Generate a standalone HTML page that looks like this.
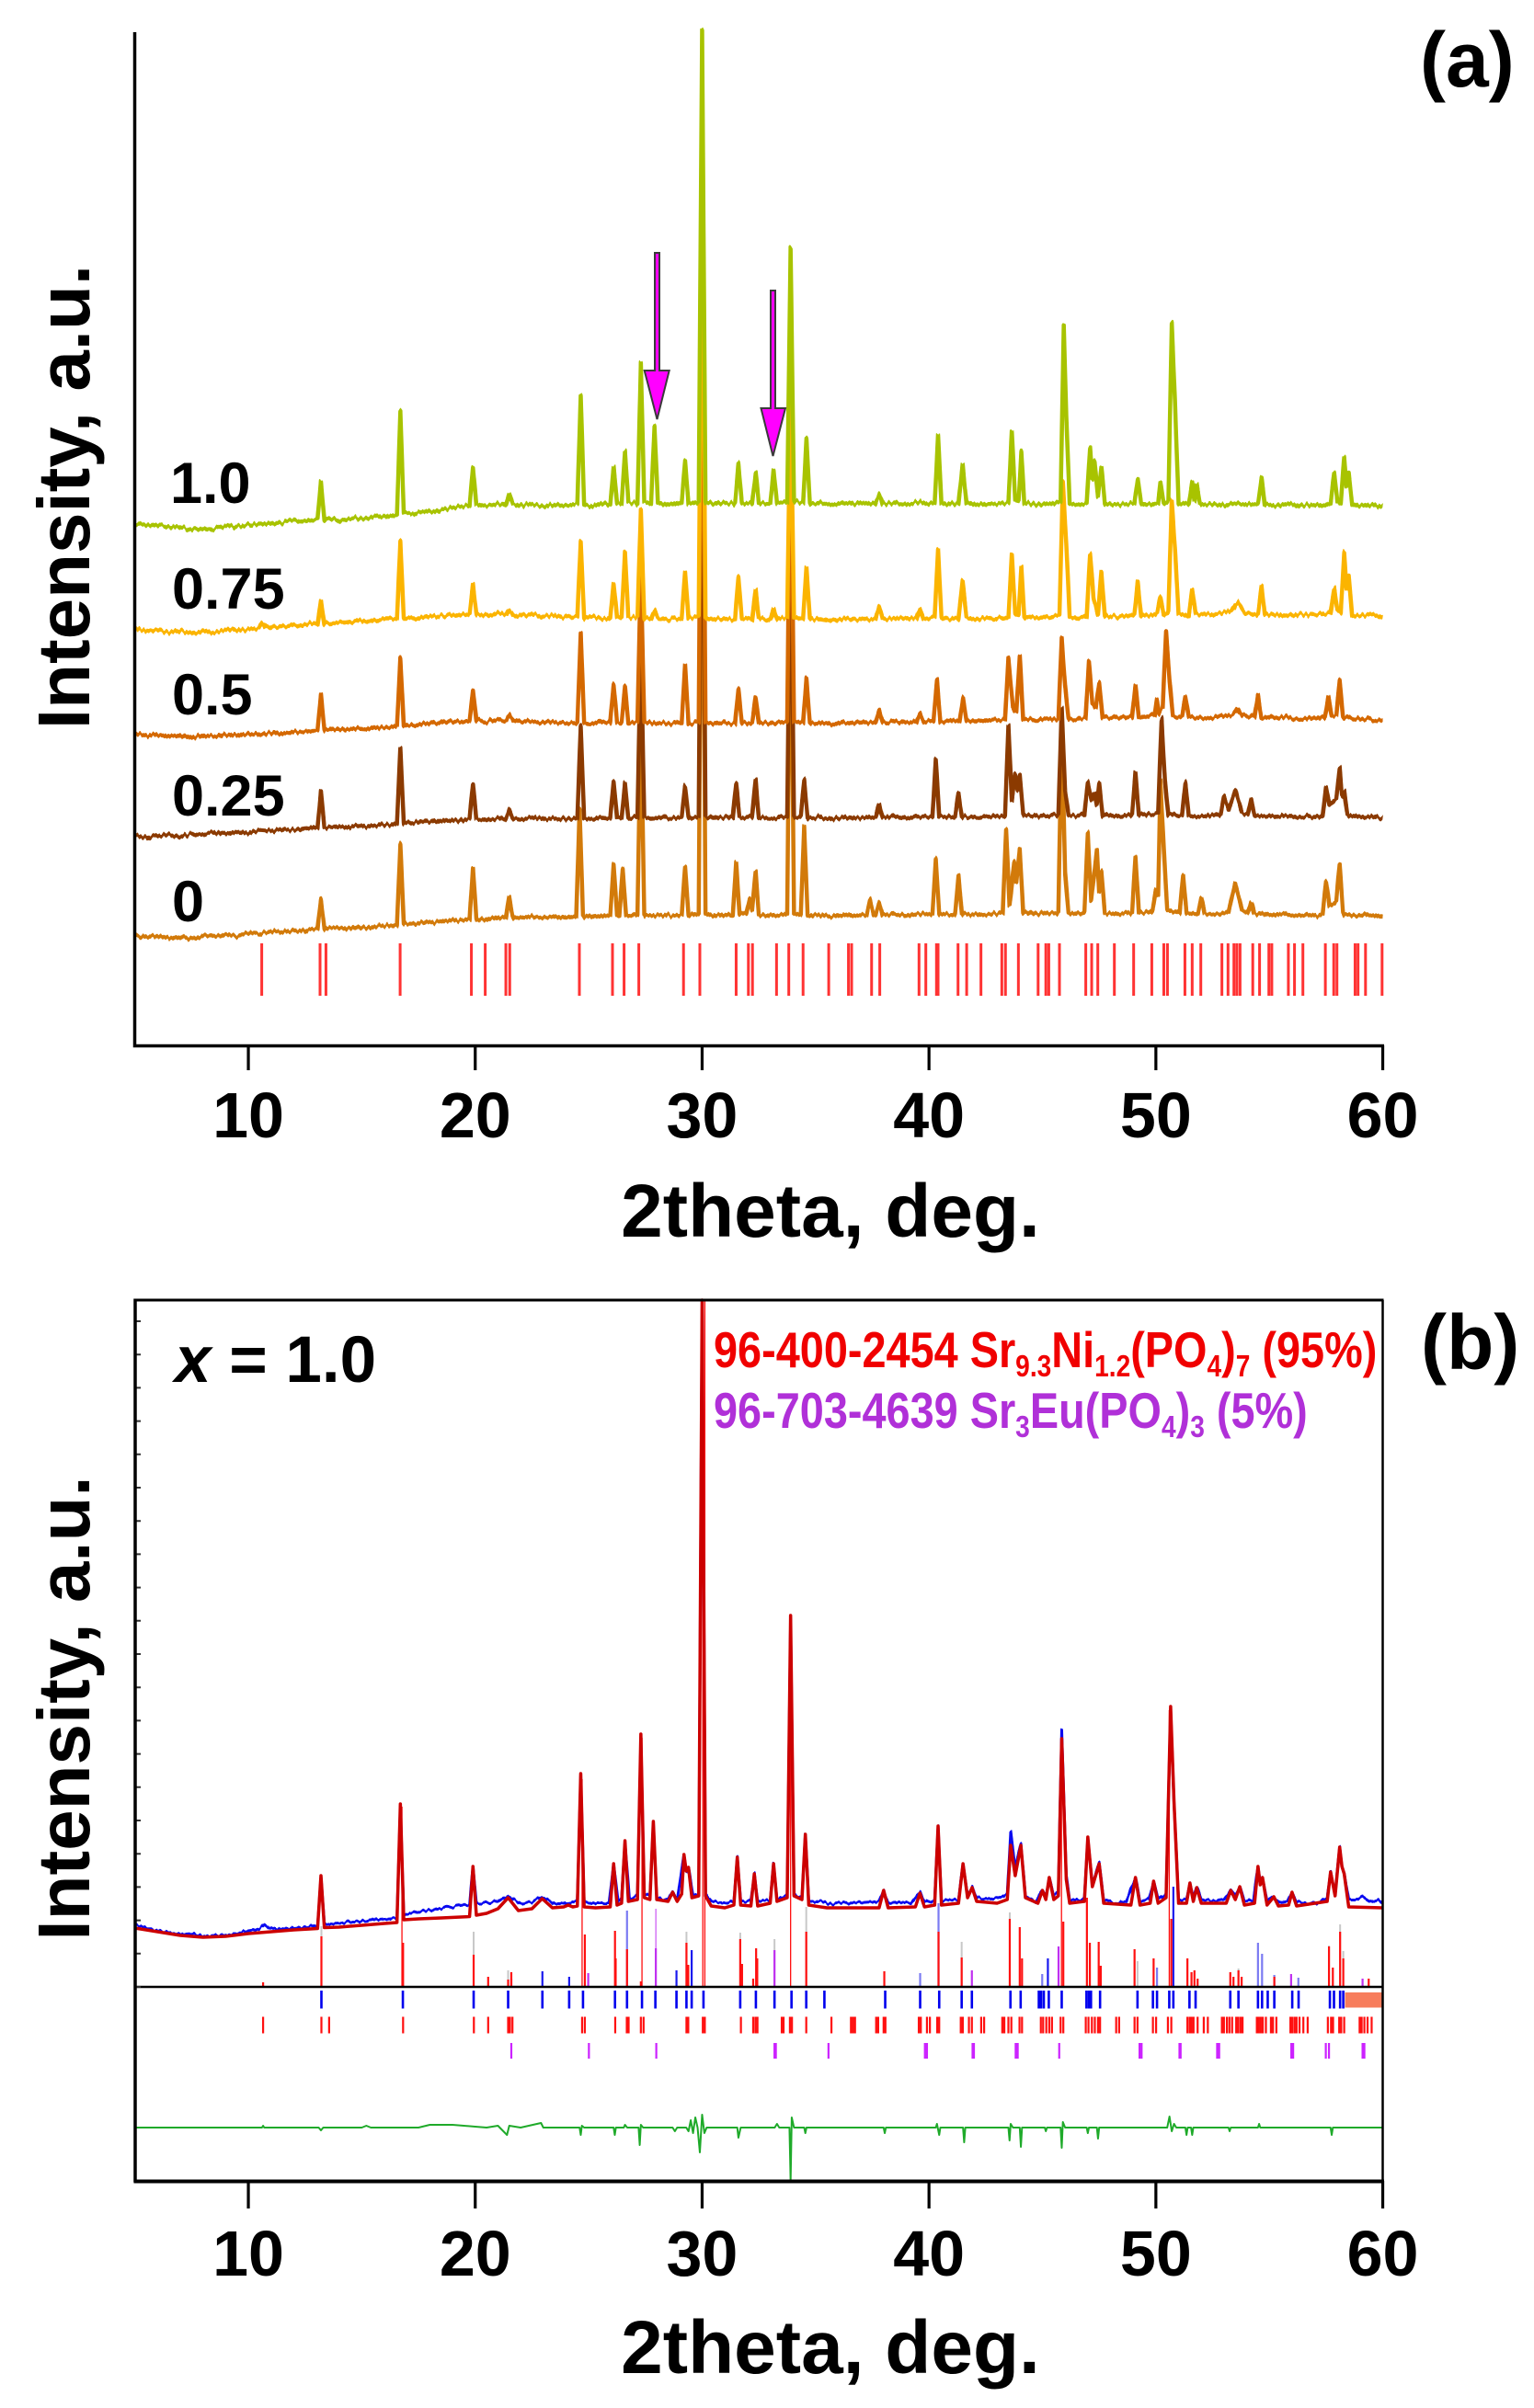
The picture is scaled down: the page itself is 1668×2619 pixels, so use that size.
<!DOCTYPE html>
<html><head><meta charset="utf-8"><style>
html,body{margin:0;padding:0;background:#fff}
svg{display:block}
text{font-family:"Liberation Sans",Arial,sans-serif;font-weight:bold}
.d path{vector-effect:non-scaling-stroke;fill:none;stroke-linejoin:round}
</style></head><body>
<svg xmlns="http://www.w3.org/2000/svg" width="1668" height="2619" viewBox="0 0 1668 2619">
<defs>
<filter id="nz" filterUnits="userSpaceOnUse" x="0" y="0" width="1668" height="2619" color-interpolation-filters="sRGB">
<feTurbulence type="fractalNoise" baseFrequency="0.35 0.02" numOctaves="1" seed="7" result="t"/>
<feColorMatrix in="t" type="matrix" values="0 0 0 0 0.5  0 1 0 0 0  0 0 0 0 0  0 0 0 0 1" result="m"/>
<feDisplacementMap in="SourceGraphic" in2="m" scale="8" xChannelSelector="R" yChannelSelector="G"/>
</filter>
<filter id="nz2" filterUnits="userSpaceOnUse" x="0" y="0" width="1668" height="2619" color-interpolation-filters="sRGB">
<feTurbulence type="fractalNoise" baseFrequency="0.3 0.02" numOctaves="1" seed="11" result="t"/>
<feColorMatrix in="t" type="matrix" values="0 0 0 0 0.5  0 1 0 0 0  0 0 0 0 0  0 0 0 0 1" result="m"/>
<feDisplacementMap in="SourceGraphic" in2="m" scale="6" xChannelSelector="R" yChannelSelector="G"/>
</filter>
</defs>
<rect width="1668" height="2619" fill="#fff"/>

<!-- ============ PANEL A ============ -->
<g class="d" transform="translate(23.35 0) scale(24.67 1)">
<path stroke="#ff3333" stroke-width="3" d="M10.59,1026V1083M13.16,1026V1083M13.42,1026V1083M16.69,1026V1083M19.83,1026V1083M20.44,1026V1083M21.35,1026V1083M21.52,1026V1083M24.59,1026V1083M26.05,1026V1083M26.56,1026V1083M27.21,1026V1083M29.18,1026V1083M29.9,1026V1083M31.5,1026V1083M32.04,1026V1083M32.22,1026V1083M33.28,1026V1083M33.82,1026V1083M34.45,1026V1083M35.58,1026V1083M36.45,1026V1083M36.59,1026V1083M37.47,1026V1083M37.83,1026V1083M39.56,1026V1083M39.86,1026V1083M40.33,1026V1083M40.4,1026V1083M41.28,1026V1083M41.66,1026V1083M42.29,1026V1083M43.21,1026V1083M43.37,1026V1083M43.94,1026V1083M44.81,1026V1083M45.15,1026V1083M45.28,1026V1083M45.75,1026V1083M46.91,1026V1083M47.17,1026V1083M47.44,1026V1083M48.17,1026V1083M49.02,1026V1083M49.82,1026V1083M50.35,1026V1083M50.51,1026V1083M51.28,1026V1083M51.6,1026V1083M51.98,1026V1083M52.91,1026V1083M53.18,1026V1083M53.44,1026V1083M53.57,1026V1083M53.71,1026V1083M54.27,1026V1083M54.57,1026V1083M54.98,1026V1083M55.11,1026V1083M55.84,1026V1083M56.11,1026V1083M56.48,1026V1083M57.47,1026V1083M57.84,1026V1083M57.98,1026V1083M58.78,1026V1083M58.91,1026V1083M59.24,1026V1083M59.97,1026V1083"/>
</g>

<g filter="url(#nz)">
<g class="d" transform="translate(23.35 0) scale(24.67 1)">
<!-- 0 -->
<path stroke="#d27a0a" stroke-width="4.5" d="M5,1017 L5.5,1019 6,1018 6.5,1020 7,1019 7.5,1021 8,1018 8.5,1019 9,1017 9.5,1018 10,1015 10.5,1016 11,1013 11.5,1014 12,1012 12.5,1012 13.05,1010 13.2,978 13.35,1010 13.8,1009 14.3,1010 14.8,1008 15.3,1009 15.8,1007 16.2,1007 16.55,1006 16.7,918 16.85,1005 17.3,1005 17.8,1003 18.3,1003 18.8,1001 19.3,1001 19.75,1000 19.9,944 20.05,1000 20.5,1000 21,998 21.35,998 21.5,976 21.65,998 22,998 22.5,997 23,998 23.5,997 24,998 24.45,997 24.6,880 24.75,997 25.2,997 25.6,996 25.95,996 26.1,940 26.25,995 26.35,996 26.5,945 26.65,996 27.15,995 27.3,780 27.45,995 27.75,996 28.2,995 28.7,996 29.1,995 29.25,942 29.4,996 29.85,994 30.0,420 30.15,994 30.5,996 31,995 31.35,996 31.5,938 31.65,994 31.95,994 32.1,978 32.2,990 32.36,948 32.5,995 33,996 33.5,995 33.75,994 33.9,600 34.05,994 34.35,995 34.5,899 34.65,996 35.2,995 35.7,997 36.2,995 36.7,996 37.25,995 37.4,978 37.55,995 37.65,995 37.8,981 37.95,995 38.5,994 39,996 39.5,994 40.15,994 40.3,935 40.45,994 41.15,995 41.3,952 41.45,994 42.2,995 42.8,994 43.25,993 43.4,902 43.55,985 43.75,938 43.85,960 44.0,922 44.15,993 44.8,994 45.3,993 45.7,993 45.85,790 46.0,950 46.15,993 46.6,994 46.85,992 47.0,906 47.15,980 47.4,924 47.5,970 47.6,948 47.75,993 48.3,994 48.8,993 48.95,993 49.1,931 49.25,993 49.85,992 50.0,969 50.1,975 50.2,850 50.35,924 50.5,990 51.05,993 51.2,952 51.35,993 51.85,994 52.0,977 52.15,994 52.8,994 53.2,992 53.5,961 53.8,990 54.05,993 54.2,982 54.35,994 55.2,995 55.7,994 56.2,996 56.7,995 57.2,996 57.35,994 57.5,958 57.65,985 57.95,980 58.1,939 58.25,994 58.8,996 59.3,995 60,997"/>

<!-- 0.25 -->
<path stroke="#8b3a00" stroke-width="4.5" d="M5,909 L5.5,911 6,909 6.5,908 7,910 7.5,907 8,908 8.5,905 9,907 9.5,905 10,906 10.5,903 11,904 11.5,902 12,903 12.5,901 13.05,900 13.2,861 13.35,900 13.8,899 14.3,900 14.8,898 15.3,899 15.8,897 16.2,897 16.55,896 16.7,814 16.85,895 17.3,895 17.8,893 18.3,894 18.8,892 19.3,893 19.75,891 19.9,853 20.05,891 20.5,892 21,890 21.35,891 21.5,880 21.65,890 22,891 22.5,889 23,891 23.5,890 24,891 24.5,890 24.65,790 24.8,890 25.2,891 25.6,889 25.95,890 26.1,850 26.25,889 26.45,890 26.6,852 26.75,890 27.15,889 27.3,700 27.45,889 27.75,890 28.2,889 28.7,890 29.1,889 29.25,855 29.4,890 29.85,888 30.0,365 30.15,888 30.5,890 31,889 31.35,890 31.5,852 31.65,889 32.2,889 32.36,848 32.5,889 33,890 33.5,889 33.75,888 33.9,560 34.05,888 34.35,889 34.5,848 34.65,890 35.2,889 35.7,891 36.2,889 36.7,890 37.2,889 37.65,889 37.8,875 37.95,889 38.5,888 39,890 39.5,888 40.15,888 40.3,826 40.45,888 41.15,889 41.3,863 41.45,888 42.2,889 42.8,888 43.35,887 43.5,789 43.65,870 43.8,842 43.9,860 44.0,842 44.15,886 44.8,888 45.3,887 45.7,886 45.85,770 46.0,860 46.15,887 46.6,887 46.85,886 47.0,851 47.15,870 47.3,862 47.4,875 47.5,852 47.65,887 48.3,888 48.8,887 48.95,887 49.1,840 49.25,887 49.8,886 50.1,884 50.25,782 50.4,850 50.55,886 51.15,887 51.3,851 51.45,887 52,888 52.5,887 52.85,886 53.0,866 53.2,880 53.5,860 53.8,884 54.05,886 54.2,869 54.35,887 55.2,888 55.7,887 56.2,889 56.7,888 57.2,889 57.35,887 57.5,856 57.65,875 57.95,870 58.1,835 58.2,865 58.3,860 58.45,887 59,889 59.5,888 60,890"/>

<!-- 0.5 -->
<path stroke="#d46800" stroke-width="4.5" d="M5,798 L5.5,800 6,799 6.5,801 7,800 7.5,802 8,800 8.5,801 9,799 9.5,800 10,798 10.5,799 11,797 11.5,798 12,796 12.5,796 13.05,794 13.2,755 13.35,794 13.8,793 14.3,794 14.8,792 15.3,793 15.8,791 16.2,791 16.55,790 16.7,716 16.85,789 17.3,789 17.8,787 18.3,787 18.8,785 19.3,785 19.75,784 19.9,751 20.05,784 20.5,785 21,783 21.35,784 21.5,778 21.65,784 22,785 22.5,784 23,786 23.5,785 24,786 24.5,786 24.65,688 24.8,786 25.2,787 25.6,785 25.95,786 26.1,744 26.25,786 26.45,786 26.6,746 26.75,786 27.15,785 27.3,620 27.45,786 27.75,787 28.2,786 28.7,787 29.1,786 29.25,723 29.4,787 29.85,785 30.0,250 30.15,785 30.5,787 31,786 31.45,787 31.6,749 31.75,786 32.2,787 32.36,758 32.5,786 33,787 33.5,786 33.75,785 33.9,440 34.05,785 34.45,786 34.6,738 34.75,787 35.2,786 35.7,788 36.2,786 36.7,787 37.2,786 37.65,786 37.8,773 37.95,786 38.5,785 39,786 39.45,785 39.6,776 39.75,785 40.2,784 40.35,739 40.5,785 41.35,784 41.5,759 41.65,784 42.2,784 42.8,783 43.35,783 43.5,716 43.7,770 43.85,775 44.0,713 44.15,782 44.8,783 45.3,782 45.7,782 45.85,694 46.0,746 46.15,782 46.6,782 46.9,781 47.05,720 47.2,765 47.35,770 47.5,743 47.65,781 48.3,781 48.8,780 48.95,780 49.1,745 49.25,780 49.8,779 49.95,778 50.05,760 50.15,775 50.3,770 50.45,686 50.6,740 50.75,779 51.15,780 51.3,758 51.45,780 52,781 52.5,780 53,779 53.4,776 53.6,770 53.8,777 54.35,780 54.5,756 54.65,780 55.2,781 55.7,780 56.2,782 56.7,781 57.2,782 57.45,781 57.6,758 57.75,778 57.95,778 58.1,740 58.25,780 58.7,782 59.2,781 59.6,783 60,783"/>

<!-- 0.75 -->
<path stroke="#fbb400" stroke-width="4.5" d="M5,684 L5.5,686 6,685 6.5,688 7,686 7.5,689 8,687 8.5,688 9,685 9.5,686 10,684 10.45,684 10.6,679 10.75,683 11.2,682 11.7,681 12.2,680 12.7,678 13.05,679 13.2,653 13.35,678 13.8,677 14.3,677 14.8,675 15.3,676 15.8,674 16.2,674 16.55,673 16.7,589 16.85,672 17.3,672 17.8,670 18.3,671 18.8,668 19.3,669 19.75,668 19.9,635 20.05,668 20.5,669 21,667 21.35,669 21.5,664 21.65,668 22,670 22.5,668 23,670 23.5,669 24,671 24.5,670 24.65,589 24.8,672 25.2,671 25.6,673 25.95,672 26.1,634 26.25,672 26.45,671 26.6,600 26.75,672 27.15,671 27.3,554 27.45,673 27.75,673 27.9,664 28.05,673 28.5,674 29.1,672 29.25,623 29.4,673 29.85,671 30.0,180 30.15,672 30.5,674 31,673 31.45,674 31.6,627 31.75,673 32.2,674 32.36,642 32.5,673 33,674 33.15,662 33.3,673 33.75,672 33.9,420 34.05,672 34.45,673 34.6,617 34.75,674 35.2,673 35.7,675 36.2,673 36.7,674 37.2,673 37.65,674 37.8,660 37.95,673 38.5,672 39,674 39.45,672 39.6,662 39.75,673 40.25,672 40.4,597 40.55,673 41.3,673 41.48,631 41.65,672 42.2,673 42.8,672 43.5,671 43.65,603 43.8,668 43.95,669 44.07,616 44.2,671 44.8,672 45.3,671 45.75,670 45.9,525 46.05,591 46.2,671 46.6,672 46.95,670 47.1,603 47.25,650 47.45,668 47.6,621 47.75,671 48.3,670 48.8,669 49.05,669 49.2,633 49.35,670 49.8,669 50.05,667 50.2,649 50.35,668 50.55,666 50.7,544 50.85,600 51,668 51.45,669 51.6,641 51.75,668 52.3,668 52.8,667 53.3,664 53.6,655 53.9,666 54.5,668 54.66,637 54.8,669 55.3,668 55.8,670 56.3,668 56.8,669 57.3,668 57.7,667 57.86,640 58,664 58.15,666 58.3,601 58.4,640 58.5,626 58.65,669 59.1,670 59.5,669 60,671"/>

<!-- 1.0 -->
<path stroke="#a8c300" stroke-width="4.5" d="M5,570 L5.5,572 6,571 6.5,574 7,573 7.5,576 8,574 8.5,575 9,572 9.5,573 10,570 10.5,571 11,568 11.5,569 12,566 12.5,567 13.05,565 13.2,523 13.35,566 13.7,564 14.2,566 14.7,563 15.2,564 15.7,561 16.2,561 16.55,560 16.7,447 16.85,558 17.3,559 17.8,556 18.3,556 18.8,553 19.3,551 19.75,550 19.9,508 20.05,549 20.5,550 21,548 21.35,549 21.5,538 21.65,548 22,550 22.5,548 23,551 23.5,549 24,550 24.5,548 24.65,430 24.8,549 25.2,551 25.6,547 25.95,549 26.1,508 26.25,548 26.45,548 26.6,491 26.75,546 27.15,548 27.3,395 27.45,546 27.75,548 27.9,463 28.05,547 28.5,549 29.1,547 29.25,501 29.4,548 29.85,546 30.0,33 30.15,546 30.5,548 31,547 31.45,548 31.6,504 31.75,547 32.2,548 32.36,514 32.5,547 33,548 33.15,511 33.3,547 33.75,546 33.9,269 34.05,545 34.45,547 34.6,477 34.75,548 35.2,547 35.7,549 36.2,547 36.7,548 37.2,547 37.65,548 37.8,538 37.95,548 38.5,547 39,549 39.5,546 40,548 40.25,547 40.4,474 40.55,548 41.3,548 41.48,505 41.65,547 42.2,549 42.8,548 43.5,547 43.65,469 43.8,544 43.95,545 44.07,491 44.2,547 44.8,549 45.3,548 45.8,546 45.94,354 46.05,452 46.2,548 46.6,549 46.95,547 47.1,487 47.2,520 47.3,501 47.45,540 47.6,509 47.75,548 48.3,549 48.8,548 49.05,547 49.2,520 49.35,548 49.8,549 50.1,547 50.2,523 50.35,548 50.55,545 50.7,351 50.85,442 51,548 51.45,548 51.6,525 51.7,545 51.8,527 51.95,549 52.5,548 53,550 53.5,547 54,549 54.5,548 54.66,519 54.8,549 55.3,550 55.8,548 56.3,550 56.8,549 57.3,550 57.7,548 57.86,515 58,545 58.15,548 58.3,497 58.4,530 58.5,515 58.65,549 59.1,550 59.5,549 60,551"/>
</g>
</g>

<!-- arrows -->
<polygon points="712,275 717,275 717,403 727.7,403 714.5,456 700.7,403 712,403" fill="#ff00ff" stroke="#3a3a3a" stroke-width="2" stroke-linejoin="miter"/>
<polygon points="838,316 843,316 843,444 854,444 840.5,496 827.5,444 838,444" fill="#ff00ff" stroke="#3a3a3a" stroke-width="2" stroke-linejoin="miter"/>

<!-- axes A -->
<path d="M146.5,35V1137.5H1505" fill="none" stroke="#000" stroke-width="3.5"/>
<path d="M270.05,1137V1164M516.75,1137V1164M763.45,1137V1164M1010.15,1137V1164M1256.85,1137V1164M1503.55,1137V1164" stroke="#000" stroke-width="3.2"/>
<g font-size="70" text-anchor="middle" fill="#000">
<text x="270.05" y="1237">10</text><text x="516.75" y="1237">20</text><text x="763.45" y="1237">30</text><text x="1010.15" y="1237">40</text><text x="1256.85" y="1237">50</text><text x="1503.55" y="1237">60</text>
</g>
<text x="903" y="1345" font-size="82" text-anchor="middle">2theta, deg.</text>
<text transform="translate(97,540.5) rotate(-90)" font-size="80" text-anchor="middle">Intensity, a.u.</text>
<g font-size="63" fill="#000">
<text x="185" y="547">1.0</text>
<text x="187" y="662">0.75</text>
<text x="187" y="777">0.5</text>
<text x="187" y="887">0.25</text>
<text x="187" y="1002">0</text>
</g>
<text x="1544" y="94" font-size="84">(a)</text>

<!-- ============ PANEL B ============ -->
<g class="d" transform="translate(23.35 0) scale(24.67 1)">
<!-- gray sticks -->
<path stroke="#c8c8c8" stroke-width="2" d="M13.22,2161V2095M19.93,2161V2101M21.45,2161V2143M29.31,2161V2101M31.68,2161V2102M33.19,2161V2109M34.59,2161V2074M41.44,2161V2112M43.56,2161V2080M49.19,2161V2133M53.64,2161V2141M57.63,2161V2116M58.12,2161V2093M58.26,2161V2122"/>
<!-- lavender sticks -->
<path stroke="#7b7bf2" stroke-width="2.2" d="M26.69,2161V2078M39.61,2161V2146M40.42,2161V2070M44.99,2161V2147M50.05,2161V2140M54.5,2161V2113M54.68,2161V2125M55.22,2161V2148M56.28,2161V2151"/>
<path stroke="#1a1aee" stroke-width="2.2" d="M22.96,2161V2144M24.14,2161V2150M28.87,2161V2143M29.54,2161V2121M45.24,2161V2130M50.77,2161V2052"/>
<!-- purple sticks -->
<path stroke="#c030f0" stroke-width="2.2" d="M21.59,2161V2152M24.98,2161V2146M27.96,2161V2119M33.19,2161V2121M41.89,2161V2143M45.71,2161V2117M55.96,2161V2147M59.11,2161V2152"/>
<path stroke="#c030f0" stroke-width="1" d="M27.96,2119V2076"/>
<!-- red sticks -->
<path stroke="#ff1010" stroke-width="2.2" d="M10.65,2161V2156M13.22,2161V2106M16.82,2161V2113M19.93,2161V2126M20.57,2161V2150M21.45,2161V2153M21.59,2161V2145M24.83,2161V2104M26.16,2161V2100M26.19,2161V2130M26.69,2161V2120M27.3,2161V2155M29.31,2161V2113M29.39,2161V2137M31.68,2161V2109M31.76,2161V2136M32.25,2161V2152M32.38,2161V2119M32.43,2161V2130M34.59,2161V2101M38.03,2161V2144M40.42,2161V2101M41.44,2161V2129M43.56,2161V2087M44.0,2161V2096M44.1,2161V2130M45.92,2161V2090M46.96,2161V2064M47.09,2161V2113M47.48,2161V2112M47.57,2161V2138M49.06,2161V2120M49.9,2161V2130M50.68,2161V2087M51.39,2161V2130M51.57,2161V2145M51.7,2161V2143M51.84,2161V2152M53.28,2161V2145M53.42,2161V2150M53.64,2161V2143M53.78,2161V2150M55.22,2161V2150M57.63,2161V2117M57.8,2161V2140M58.12,2161V2101M58.26,2161V2130M59.38,2161V2152"/>
<path stroke="#ff1010" stroke-width="1.3" d="M16.77,2161V1965M24.71,2161V1935M27.35,2161V1890M30.03,2161V1414M30.12,2161V1414M33.9,2161V1800M45.84,2161V1895M50.59,2161V1860"/>
</g>

<!-- observed (blue) with noise -->
<g filter="url(#nz2)">
<g class="d" transform="translate(23.35 0) scale(24.67 1)">
<path stroke="#0a0af0" stroke-width="3" d="M5,2093 L5.5,2097 6,2100 6.5,2102 7,2104 7.5,2103 8,2106 8.5,2105 9,2105 9.5,2103 10,2100 10.5,2098 10.7,2093 10.9,2097 11.5,2098 12,2097 12.5,2096 13.05,2094 13.2,2041 13.35,2093 14,2092 14.5,2090 15,2090 15.5,2088 16,2087 16.55,2086 16.7,1965 16.85,2083 17.2,2080 17.7,2079 18.2,2077 18.7,2075 19.2,2073 19.75,2071 19.9,2030 20.05,2070 20.5,2070 21,2068 21.45,2062 22,2070 22.5,2069 22.95,2063 23.5,2070 24.1,2070 24.5,2068 24.65,1932 24.8,2068 25.3,2070 25.9,2070 26.1,2027 26.3,2068 26.45,2066 26.6,2003 26.8,2066 27.15,2062 27.3,1890 27.45,2060 27.7,2063 27.85,1983 28,2064 28.5,2066 28.7,2058 28.9,2066 29.2,2018 29.3,2036 29.4,2031 29.6,2062 29.85,2060 30.0,1416 30.15,2060 30.4,2068 31,2070 31.4,2068 31.55,2020 31.7,2068 32.15,2068 32.3,2038 32.45,2068 33,2067 33.15,2027 33.3,2066 33.75,2062 33.9,1760 34.05,2060 34.4,2065 34.55,1995 34.7,2068 35.2,2068 35.7,2071 36.2,2069 36.7,2070 37.2,2069 37.8,2068 38.0,2056 38.2,2070 38.7,2069 39.2,2070 39.6,2058 39.8,2069 40.25,2067 40.4,1986 40.55,2068 41.3,2066 41.5,2027 41.7,2062 41.9,2052 42.1,2064 42.6,2066 43.1,2064 43.45,2060 43.6,1992 43.8,2030 44.05,2005 44.25,2062 44.7,2068 45.0,2056 45.15,2064 45.3,2042 45.5,2062 45.7,2058 45.85,1882 46.05,2040 46.2,2066 46.6,2066 46.85,2064 47.0,1998 47.2,2050 47.5,2026 47.7,2066 48.2,2070 48.7,2068 49.1,2042 49.3,2068 49.7,2066 49.9,2046 50.1,2066 50.45,2060 50.65,1858 50.8,1962 51.0,2066 51.35,2066 51.5,2048 51.65,2064 51.8,2052 52,2066 52.5,2068 53,2066 53.3,2056 53.5,2062 53.7,2052 53.9,2068 54.3,2066 54.5,2030 54.6,2048 54.7,2042 54.9,2068 55.2,2063 55.4,2070 55.8,2068 56.0,2058 56.2,2068 56.7,2070 57.2,2070 57.55,2064 57.7,2036 57.9,2060 58.1,2009 58.2,2030 58.3,2038 58.5,2066 58.9,2066 59.1,2063 59.4,2068 59.8,2066 60,2070"/>
</g>
</g>

<g class="d" transform="translate(23.35 0) scale(24.67 1)">
<!-- calculated (red) -->
<path stroke="#cc0000" stroke-width="3.5" d="M5,2097 L6,2101 7,2105 8,2107 9,2106 10,2103 11,2101 12,2099 13.05,2097.5 13.2,2040 13.35,2096.5 14,2096 15,2094 16,2092 16.55,2091 16.7,1962 16.85,2088 17.5,2087 18.5,2086 19.75,2084.5 19.9,2030 20.05,2083 20.5,2081 21.0,2076 21.45,2064 21.9,2078 22.5,2076 22.95,2065 23.4,2075 23.9,2074 24.1,2072 24.3,2074 24.5,2073 24.65,1929 24.8,2074 25.3,2075 25.95,2074 26.1,2027 26.25,2072 26.45,2070 26.6,2002 26.75,2068 27.15,2066 27.3,1886 27.45,2064 27.7,2066 27.85,1981 28,2066 28.5,2068 28.7,2058 28.9,2068 29.1,2060 29.2,2017 29.3,2035 29.4,2031 29.55,2064 29.85,2062 30.0,1414 30.15,2062 30.4,2073 31,2075 31.4,2072 31.55,2020 31.7,2072 32.15,2073 32.3,2038 32.45,2073 33,2070 33.15,2027 33.3,2068 33.75,2064 33.9,1757 34.05,2062 34.4,2066 34.55,1995 34.7,2072 35.5,2075 37.8,2075 38.0,2056 38.2,2075 39.4,2074 39.6,2059 39.8,2074 40.25,2072 40.4,1986 40.55,2072 41.3,2070 41.5,2027 41.7,2064 41.9,2053 42.1,2068 43.0,2070 43.45,2066 43.6,2007 43.8,2040 44.05,2007 44.25,2064 44.8,2070 45.0,2056 45.15,2066 45.3,2042 45.5,2066 45.7,2062 45.85,1891 46.05,2044 46.2,2070 46.85,2068 47.0,1998 47.2,2052 47.5,2027 47.7,2070 48.9,2072 49.1,2042 49.3,2072 49.75,2070 49.9,2046 50.1,2070 50.45,2064 50.65,1856 50.8,1960 51.0,2070 51.35,2070 51.5,2048 51.65,2068 51.8,2053 52,2070 53.1,2070 53.3,2056 53.5,2066 53.7,2052 53.9,2072 54.35,2070 54.5,2030 54.6,2050 54.7,2042 54.9,2072 55.1,2066 55.2,2063 55.4,2073 55.85,2072 56.0,2058 56.2,2073 57.55,2068 57.7,2036 57.9,2062 58.1,2009 58.2,2030 58.3,2038 58.5,2074 60,2075"/>

<!-- tick rows -->
<path stroke="#0000ee" stroke-width="2.6" d="M13.22,2165V2184.5M16.81,2165V2184.5M19.93,2165V2184.5M21.45,2165V2184.5M22.96,2165V2184.5M24.14,2165V2184.5M24.75,2165V2184.5M26.16,2165V2184.5M26.69,2165V2184.5M27.35,2165V2184.5M27.94,2165V2184.5M28.87,2165V2184.5M29.31,2165V2184.5M29.54,2165V2184.5M30.06,2165V2184.5M31.68,2165V2184.5M32.37,2165V2184.5M33.19,2165V2184.5M33.94,2165V2184.5M34.59,2165V2184.5M35.39,2165V2184.5M38.07,2165V2184.5M39.61,2165V2184.5M40.45,2165V2184.5M41.44,2165V2184.5M41.89,2165V2184.5M43.59,2165V2184.5M44.04,2165V2184.5M44.84,2165V2184.5M44.94,2165V2184.5M45.06,2165V2184.5M45.28,2165V2184.5M45.85,2165V2184.5M46.94,2165V2184.5M47.05,2165V2184.5M47.14,2165V2184.5M47.54,2165V2184.5M49.19,2165V2184.5M49.87,2165V2184.5M50.05,2165V2184.5M50.59,2165V2184.5M50.77,2165V2184.5M51.48,2165V2184.5M51.75,2165V2184.5M53.28,2165V2184.5M53.64,2165V2184.5M54.5,2165V2184.5M54.68,2165V2184.5M54.93,2165V2184.5M55.22,2165V2184.5M56.01,2165V2184.5M56.29,2165V2184.5M57.67,2165V2184.5M57.85,2165V2184.5M58.12,2165V2184.5M58.26,2165V2184.5"/>
<path stroke="#ff1010" stroke-width="2.2" d="M10.65,2193.5V2211.5M13.22,2193.5V2211.5M13.56,2193.5V2211.5M16.82,2193.5V2211.5M19.94,2193.5V2211.5M20.57,2193.5V2211.5M21.45,2193.5V2211.5M21.53,2193.5V2211.5M21.64,2193.5V2211.5M24.71,2193.5V2211.5M24.83,2193.5V2211.5M26.17,2193.5V2211.5M26.68,2193.5V2211.5M26.76,2193.5V2211.5M27.3,2193.5V2211.5M27.42,2193.5V2211.5M29.31,2193.5V2211.5M29.39,2193.5V2211.5M30.03,2193.5V2211.5M30.12,2193.5V2211.5M31.71,2193.5V2211.5M32.25,2193.5V2211.5M32.35,2193.5V2211.5M32.44,2193.5V2211.5M33.51,2193.5V2211.5M33.59,2193.5V2211.5M33.87,2193.5V2211.5M33.96,2193.5V2211.5M34.59,2193.5V2211.5M35.7,2193.5V2211.5M36.56,2193.5V2211.5M36.65,2193.5V2211.5M36.74,2193.5V2211.5M37.67,2193.5V2211.5M37.76,2193.5V2211.5M38.0,2193.5V2211.5M38.08,2193.5V2211.5M39.55,2193.5V2211.5M39.64,2193.5V2211.5M39.91,2193.5V2211.5M40.04,2193.5V2211.5M40.36,2193.5V2211.5M40.45,2193.5V2211.5M41.4,2193.5V2211.5M41.49,2193.5V2211.5M41.76,2193.5V2211.5M41.89,2193.5V2211.5M42.3,2193.5V2211.5M42.43,2193.5V2211.5M43.23,2193.5V2211.5M43.32,2193.5V2211.5M43.5,2193.5V2211.5M43.63,2193.5V2211.5M43.99,2193.5V2211.5M44.1,2193.5V2211.5M44.93,2193.5V2211.5M45.03,2193.5V2211.5M45.17,2193.5V2211.5M45.3,2193.5V2211.5M45.42,2193.5V2211.5M45.8,2193.5V2211.5M45.92,2193.5V2211.5M46.91,2193.5V2211.5M47.03,2193.5V2211.5M47.18,2193.5V2211.5M47.31,2193.5V2211.5M47.45,2193.5V2211.5M47.54,2193.5V2211.5M48.25,2193.5V2211.5M48.38,2193.5V2211.5M49.06,2193.5V2211.5M49.19,2193.5V2211.5M49.87,2193.5V2211.5M50.01,2193.5V2211.5M50.53,2193.5V2211.5M50.68,2193.5V2211.5M51.39,2193.5V2211.5M51.49,2193.5V2211.5M51.57,2193.5V2211.5M51.66,2193.5V2211.5M51.84,2193.5V2211.5M52.11,2193.5V2211.5M52.29,2193.5V2211.5M52.91,2193.5V2211.5M53.0,2193.5V2211.5M53.13,2193.5V2211.5M53.24,2193.5V2211.5M53.36,2193.5V2211.5M53.54,2193.5V2211.5M53.63,2193.5V2211.5M53.73,2193.5V2211.5M53.82,2193.5V2211.5M54.45,2193.5V2211.5M54.53,2193.5V2211.5M54.62,2193.5V2211.5M54.71,2193.5V2211.5M54.85,2193.5V2211.5M55.07,2193.5V2211.5M55.16,2193.5V2211.5M55.31,2193.5V2211.5M55.93,2193.5V2211.5M56.01,2193.5V2211.5M56.11,2193.5V2211.5M56.2,2193.5V2211.5M56.33,2193.5V2211.5M56.5,2193.5V2211.5M56.69,2193.5V2211.5M57.58,2193.5V2211.5M57.72,2193.5V2211.5M57.81,2193.5V2211.5M58.08,2193.5V2211.5M58.17,2193.5V2211.5M58.3,2193.5V2211.5M58.98,2193.5V2211.5M59.07,2193.5V2211.5M59.19,2193.5V2211.5M59.33,2193.5V2211.5M59.51,2193.5V2211.5"/>
<path stroke="#cc22ff" stroke-width="2.2" d="M21.59,2222V2239M25.01,2222V2239M27.98,2222V2239M33.19,2222V2239M33.25,2222V2239M35.57,2222V2239M39.82,2222V2239M39.91,2222V2239M41.92,2222V2239M41.98,2222V2239M43.82,2222V2239M43.91,2222V2239M45.74,2222V2239M49.28,2222V2239M49.37,2222V2239M51.04,2222V2239M51.09,2222V2239M52.7,2222V2239M52.79,2222V2239M55.97,2222V2239M56.05,2222V2239M57.49,2222V2239M57.63,2222V2239M59.11,2222V2239M59.19,2222V2239"/>

<!-- residual -->
<path stroke="#1faa2a" stroke-width="2" d="M5,2314 H10.6 L10.65,2312 10.7,2314 H13.1 L13.2,2317 13.3,2314 H15 L15.2,2312 15.4,2314 H17.5 L18,2311 19,2311 19.5,2312 20,2313 20.5,2314 21,2312 21.4,2322 21.5,2312 22,2314 22.9,2309 23,2314 24.6,2314 24.65,2322 24.7,2312 24.8,2314 26.1,2314 26.15,2322 26.2,2314 26.55,2314 26.6,2311 26.7,2314 27.2,2314 27.25,2333 27.3,2311 27.4,2314 28.7,2314 28.8,2318 28.9,2314 29.3,2314 29.4,2318 29.5,2306 29.6,2320 29.7,2303 29.8,2314 29.9,2341 30.0,2300 30.1,2320 30.2,2314 31.55,2314 31.6,2325 31.7,2314 33.2,2314 33.3,2310 33.4,2314 33.85,2314 33.9,2372 33.95,2303 34.05,2314 34.5,2314 34.55,2320 34.6,2314 38,2314 38.05,2320 38.1,2314 40.3,2314 40.35,2310 40.45,2322 40.5,2314 41.5,2314 41.55,2330 41.6,2314 43.5,2314 43.55,2328 43.6,2310 43.7,2314 44.0,2314 44.05,2335 44.1,2314 45.1,2314 45.15,2318 45.2,2314 45.8,2314 45.85,2336 45.9,2308 46,2314 46.95,2314 47.0,2320 47.05,2314 47.4,2314 47.45,2326 47.5,2314 50.5,2314 50.6,2302 50.7,2318 50.8,2310 50.9,2314 51.3,2314 51.35,2322 51.4,2314 51.55,2314 51.6,2322 51.65,2314 53.2,2314 53.25,2318 53.3,2314 54.5,2314 54.55,2310 54.6,2314 57.7,2314 57.75,2322 57.8,2314 60,2314"/>
</g>

<rect x="1462.5" y="2167" width="41" height="16.5" fill="#f77d5c"/>
<line x1="147" y1="2161" x2="1503.5" y2="2161" stroke="#000" stroke-width="2.6"/>

<!-- minor y ticks B -->
<path d="M147,2161h6M147,2124.8h6M147,2088.6h6M147,2052.4h6M147,2016.2h6M147,1980h6M147,1943.8h6M147,1907.6h6M147,1871.4h6M147,1835.2h6M147,1799h6M147,1762.8h6M147,1726.6h6M147,1690.4h6M147,1654.2h6M147,1618h6M147,1581.8h6M147,1545.6h6M147,1509.4h6M147,1473.2h6M147,1437h6" stroke="#333" stroke-width="2"/>

<!-- box B -->
<path d="M1503.5,1414V2372" stroke="#000" stroke-width="2.5"/>
<path d="M145.5,1414H1504.5" stroke="#000" stroke-width="3"/>
<path d="M147,1412.5V2373.5" stroke="#000" stroke-width="3.5"/>
<path d="M145.5,2372.5H1505" stroke="#000" stroke-width="4"/>
<path d="M270.05,2372V2402M516.75,2372V2402M763.45,2372V2402M1010.15,2372V2402M1256.85,2372V2402M1503.55,2372V2402" stroke="#000" stroke-width="3.2"/>
<g font-size="70" text-anchor="middle" fill="#000">
<text x="270.05" y="2475">10</text><text x="516.75" y="2475">20</text><text x="763.45" y="2475">30</text><text x="1010.15" y="2475">40</text><text x="1256.85" y="2475">50</text><text x="1503.55" y="2475">60</text>
</g>
<text x="903" y="2581" font-size="82" text-anchor="middle">2theta, deg.</text>
<text transform="translate(97,1858) rotate(-90)" font-size="80" text-anchor="middle">Intensity, a.u.</text>

<text x="190" y="1503" font-size="71"><tspan font-style="italic">x</tspan> = 1.0</text>
<text x="1545" y="1489" font-size="84">(b)</text>

<g transform="translate(776 0) scale(0.852 1)">
<text x="0" y="1487" font-size="55" fill="#f00000">96-400-2454 Sr<tspan font-size="33" dy="10">9.3</tspan><tspan dy="-10">Ni</tspan><tspan font-size="33" dy="10">1.2</tspan><tspan dy="-10">(PO</tspan><tspan font-size="33" dy="10">4</tspan><tspan dy="-10">)</tspan><tspan font-size="33" dy="10">7</tspan><tspan dy="-10"> (95%)</tspan></text>
<text x="0" y="1553" font-size="55" fill="#b030d8">96-703-4639 Sr<tspan font-size="33" dy="10">3</tspan><tspan dy="-10">Eu(PO</tspan><tspan font-size="33" dy="10">4</tspan><tspan dy="-10">)</tspan><tspan font-size="33" dy="10">3</tspan><tspan dy="-10"> (5%)</tspan></text>
</g>
</svg>
</body></html>
